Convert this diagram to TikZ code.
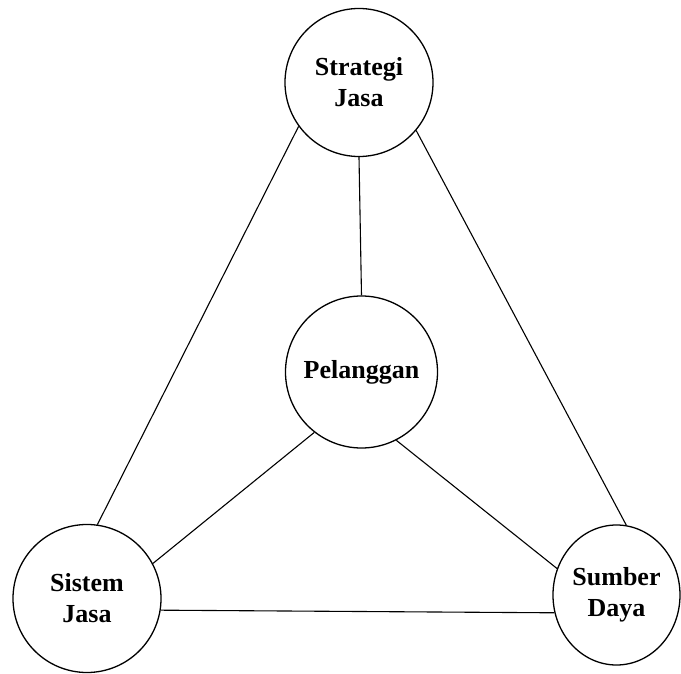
\documentclass[tikz,border=0pt]{standalone}
\usepackage{fontspec}
\setmainfont{Liberation Serif}
\usetikzlibrary{shapes.geometric}

\tikzset{
  ring/.style={draw, circle, line width=1.3pt, inner sep=0pt, align=center,
    font=\bfseries\fontsize{26}{31}\selectfont},
  oval/.style={ring, ellipse},
  link/.style={line width=1.1pt}
}

\begin{document}
\begin{tikzpicture}[x=1pt, y=-1pt]
  \useasboundingbox (0,0) rectangle (681,674);

  % the four elements
  \node[ring, minimum size=148pt] (sj) at (359,82.5) {Strategi\\Jasa};
  \node[ring, minimum size=152pt] (pl) at (361.5,372) {Pelanggan};
  \node[ring, minimum size=148pt] (si) at (87,598.5) {Sistem\\Jasa};
  \node[oval, minimum width=127pt, minimum height=140pt] (sd) at (616.5,595) {Sumber\\Daya};

  % outer triangle
  \draw[link] (sj.216.6) -- (si.82.1);
  \draw[link] (sj.320) -- (sd.82.2);
  \draw[link] (si.351.2) -- (sd.196.7);

  % spokes to the centre
  \draw[link] (sj.south) -- (pl.north);
  \draw[link] (pl.232.3) -- (si.28.6);
  \draw[link] (pl.297.2) -- (sd.156);
\end{tikzpicture}
\end{document}
